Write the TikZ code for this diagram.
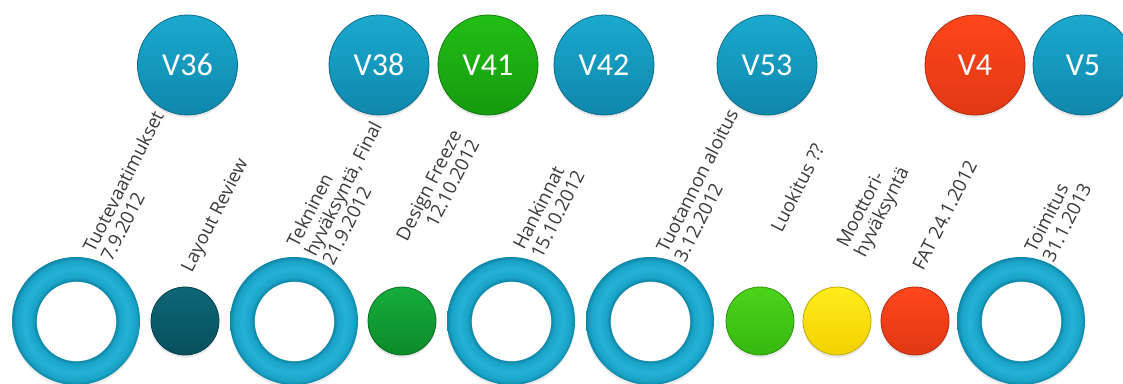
\documentclass[tikz,border=0pt]{standalone}
\usepackage{fontspec}
\setmainfont{Open Sans}
\newfontfamily\ballfont{Carlito}
\usetikzlibrary{shadows}

% palette
\definecolor{labelgray}{HTML}{3A3A3A}
\definecolor{blueTop}{HTML}{1BA9CF}
\definecolor{blueBot}{HTML}{0F87AB}
\definecolor{greenTop}{HTML}{22BE16}
\definecolor{greenBot}{HTML}{159A0E}
\definecolor{redTop}{HTML}{FF461C}
\definecolor{redBot}{HTML}{E03814}
\definecolor{tealTop}{HTML}{0E6676}
\definecolor{tealBot}{HTML}{07505E}
\definecolor{dgreenTop}{HTML}{16AD3C}
\definecolor{dgreenBot}{HTML}{0C8A2A}
\definecolor{limeTop}{HTML}{4CD41A}
\definecolor{limeBot}{HTML}{36B80F}
\definecolor{yellowTop}{HTML}{FFEC1A}
\definecolor{yellowBot}{HTML}{F2D200}
\definecolor{ringDark}{HTML}{0E86A6}
\definecolor{ringMid}{HTML}{19A3C7}
\definecolor{ringLight}{HTML}{24B2D6}

% torus-like band: hole white, band lighter in the middle, darker edges
\pgfdeclareradialshading{ringband}{\pgfpoint{0bp}{0bp}}{%
  color(0bp)=(white);
  color(15.5bp)=(white);
  color(15.7bp)=(ringDark);
  color(17bp)=(ringMid);
  color(20.3bp)=(ringLight);
  color(23.5bp)=(ringMid);
  color(25bp)=(ringDark);
  color(50bp)=(ringDark)}

\tikzset{
  ball/.style n args={2}{circle, inner sep=0pt, minimum size=75pt,
    top color=#1, bottom color=#2, draw=#2!80!black, line width=0.6pt,
    drop shadow={opacity=0.18, shadow xshift=0pt, shadow yshift=-2pt},
    text=white, font=\ballfont\fontsize{24pt}{24pt}\selectfont},
  dot/.style n args={2}{circle, inner sep=0pt, minimum size=51pt,
    top color=#1, bottom color=#2, draw=#2!80!black, line width=0.6pt,
    drop shadow={opacity=0.18, shadow xshift=0pt, shadow yshift=-2pt}},
  ring/.style={circle, inner sep=0pt, minimum size=96pt,
    shading=ringband,
    drop shadow={opacity=0.15, shadow xshift=0pt, shadow yshift=-2pt}},
  % slanted labels, placed by the baseline of their last line
  lbl/.style={rotate=63, anchor=base west, inner sep=0pt, text=labelgray,
    font=\fontsize{14pt}{15pt}\selectfont}
}

\begin{document}
\begin{tikzpicture}[x=0.75pt, y=-0.75pt]
\useasboundingbox (0,0) rectangle (1123,383);

% week balls
\node[ball={blueTop}{blueBot}]   (v36) at (187.5,65) {V36};
\node[ball={blueTop}{blueBot}]   (v38) at (379,65)   {V38};
\node[ball={greenTop}{greenBot}] (v41) at (488,65)   {V41};
\node[ball={blueTop}{blueBot}]   (v42) at (604,65)   {V42};
\node[ball={blueTop}{blueBot}]   (v53) at (767,65)   {V53};
\node[ball={redTop}{redBot}]     (v4)  at (975,65)   {V4};
\node[ball={blueTop}{blueBot}]   (v5)  at (1083,65)  {V5};

% milestone rings and dots
\node[ring] (m1) at (76,321) {};
\node[dot={tealTop}{tealBot}] (d1) at (185,321) {};
\node[ring] (m2) at (294,321) {};
\node[dot={dgreenTop}{dgreenBot}] (d2) at (402,321) {};
\node[ring] (m3) at (511,321) {};
\node[ring] (m4) at (650,321) {};
\node[dot={limeTop}{limeBot}] (d3) at (760,321) {};
\node[dot={yellowTop}{yellowBot}] (d4) at (837,321) {};
\node[dot={redTop}{redBot}] (d5) at (915,321) {};
\node[ring] (m5) at (1021,321) {};

% slanted labels
\node[lbl, align=left]  (l1)  at (111.7,263)   {Tuotevaatimukset\\7.9.2012};
\node[lbl, align=left]  (l2)  at (191.7,273.3) {Layout Review};
\node[lbl, align=left]  (l3)  at (333.3,266.7) {Tekninen\\hyväksyntä, Final\\21.9.2012};
\node[lbl, align=right, anchor=base east] (l4) at (480,143.3) {Design Freeze\\12.10.2012};
\node[lbl, align=left]  (l5)  at (541.7,260)   {Hankinnat\\15.10.2012};
\node[lbl, align=left]  (l6)  at (685,263.3)   {Tuotannon aloitus\\3.12.2012};
\node[lbl, align=left]  (l7)  at (781.7,233.3) {Luokitus ??};
\node[lbl, align=left]  (l8)  at (865,258.3)   {Moottori-\\hyväksyntä};
\node[lbl, align=left]  (l9)  at (923.3,271.7) {FAT 24.1.2012};
\node[lbl, align=left]  (l10) at (1053.3,263.3) {Toimitus\\31.1.2013};
\end{tikzpicture}
\end{document}
